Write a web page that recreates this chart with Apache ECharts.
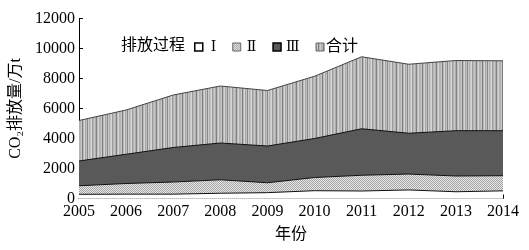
<!DOCTYPE html>
<html>
<head>
<meta charset="utf-8">
<script src="https://cdn.jsdelivr.net/npm/echarts@6/dist/echarts.min.js"></script>
<style>
    html, body { margin: 0; padding: 0; background: #fff; }
    #chart { width: 529px; height: 250px; }
</style>
</head>
<body>
<div id="chart"></div>
<script>
// 年份
const years = ['2005', '2006', '2007', '2008', '2009', '2010', '2011', '2012', '2013', '2014'];
// 各层上边界（万t）
const totalVals = [5200, 5900, 6900, 7500, 7200, 8150, 9450, 8950, 9200, 9180];
const process3 = [2500, 2950, 3400, 3700, 3500, 4000, 4650, 4350, 4520, 4520];
const process2 = [850, 1000, 1100, 1250, 1050, 1400, 1550, 1630, 1500, 1520];
const process1 = [280, 290, 290, 350, 390, 520, 500, 570, 450, 510];
const yTicks = [0, 2000, 4000, 6000, 8000, 10000, 12000];

const serif = '"Liberation Serif", "Noto Sans CJK SC", serif';
const romanFont = '"DejaVu Serif", "Liberation Serif", serif';

// 竖条纹填充（合计）
function stripePattern() {
    const c = document.createElement('canvas');
    const shades = ['#b4b4b4', '#c8c8c8', '#7a7a7a', '#bcbcbc', '#d4d4d4', '#a8a8a8', '#c0c0c0',
        '#8a8a8a', '#cccccc', '#b0b0b0', '#c4c4c4', '#d8d8d8', '#9a9a9a', '#b8b8b8', '#c6c6c6',
        '#aeaeae', '#808080', '#c2c2c2', '#d0d0d0', '#b2b2b2'];
    c.width = shades.length; c.height = 4;
    const ctx = c.getContext('2d');
    shades.forEach((s, i) => { ctx.fillStyle = s; ctx.fillRect(i, 0, 1, 4); });
    return c;
}
// 点状填充（II）
function dotPattern() {
    const c = document.createElement('canvas');
    c.width = 2; c.height = 2;
    const ctx = c.getContext('2d');
    ctx.fillStyle = '#e8e8e8'; ctx.fillRect(0, 0, 2, 2);
    ctx.fillStyle = '#a4a4a4'; ctx.fillRect(0, 0, 1, 1); ctx.fillRect(1, 1, 1, 1);
    return c;
}
const stripeFill = { image: stripePattern(), repeat: 'repeat' };
const dotFill = { image: dotPattern(), repeat: 'repeat' };

const chart = echarts.init(document.getElementById('chart'));

function areaSeries(name, data, fill, lineColor) {
    return {
        name: name,
        type: 'line',
        data: data,
        symbol: 'none',
        silent: true,
        lineStyle: { color: lineColor, width: 1 },
        itemStyle: { color: lineColor },
        areaStyle: { color: fill, opacity: 1 }
    };
}

chart.setOption({
    animation: false,
    backgroundColor: '#fff',
    grid: { left: 79, right: 26, top: 18.5, bottom: 51.5 },
    title: {
        text: '排放过程',
        left: 116, top: 33,
        textStyle: { fontFamily: serif, fontSize: 16, fontWeight: 'normal', color: '#000' }
    },
    legend: {
        left: 189, top: 34,
        itemWidth: 8, itemHeight: 8,
        itemGap: 16,
        icon: 'rect',
        textStyle: { fontFamily: romanFont, fontSize: 14, color: '#000' },
        data: [
            { name: 'Ⅰ', itemStyle: { color: '#fff', borderColor: '#000', borderWidth: 1.5 },
              textStyle: { padding: [0, 0, 0, 3] } },
            { name: 'Ⅱ', itemStyle: { color: dotFill, borderColor: '#666', borderWidth: 1 },
              textStyle: { padding: [0, 0, 0, 1] } },
            { name: 'Ⅲ', itemStyle: { color: '#595959', borderColor: '#000', borderWidth: 1.5 },
              textStyle: { padding: [0, 0, 0, 0] } },
            { name: '合计', itemStyle: { color: stripeFill, borderColor: '#666', borderWidth: 1 },
              textStyle: { fontFamily: serif, fontSize: 16, padding: [0, 0, 0, -3] } }
        ]
    },
    xAxis: {
        type: 'category',
        data: years,
        boundaryGap: false,
        name: '年份',
        nameLocation: 'middle',
        nameGap: 28,
        nameTextStyle: { fontFamily: serif, fontSize: 16, color: '#000' },
        axisLine: { lineStyle: { color: '#000', width: 1 } },
        axisTick: { inside: true, length: 4, lineStyle: { color: '#000' } },
        axisLabel: { fontFamily: serif, fontSize: 16, color: '#000', margin: 5 }
    },
    yAxis: {
        type: 'value',
        min: yTicks[0],
        max: yTicks[yTicks.length - 1],
        interval: 2000,
        name: 'CO₂排放量/万t',
        nameLocation: 'middle',
        nameGap: 48,
        nameTextStyle: { fontFamily: serif, fontSize: 16, color: '#000' },
        axisLine: { show: true, lineStyle: { color: '#000', width: 1 } },
        axisTick: { show: true, inside: true, length: 4, lineStyle: { color: '#000' } },
        axisLabel: { fontFamily: serif, fontSize: 16, color: '#000', margin: 4, formatter: v => String(v) },
        splitLine: { show: false }
    },
    series: [
        areaSeries('合计', totalVals, stripeFill, '#444'),
        areaSeries('Ⅲ', process3, '#595959', '#111'),
        areaSeries('Ⅱ', process2, dotFill, '#111'),
        areaSeries('Ⅰ', process1, '#fff', '#111')
    ]
});
</script>
</body>
</html>
